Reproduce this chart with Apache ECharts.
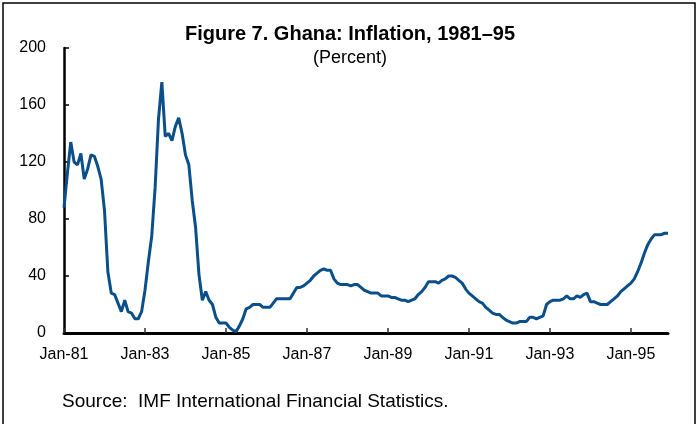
<!DOCTYPE html>
<html>
<head>
<meta charset="utf-8">
<script src="https://cdn.jsdelivr.net/npm/echarts@6/dist/echarts.min.js"></script>
<style>
  html, body { margin: 0; padding: 0; background: #fff; }
  #chart { width: 700px; height: 424px; }
</style>
</head>
<body>
<div id="chart"></div>
<script>
// years shown on the axis, one row of monthly values per year
const years = [81, 82, 83, 84, 85, 86, 87, 88, 89, 90, 91, 92, 93, 94, 95];
const monthNames = ['Jan', 'Feb', 'Mar', 'Apr', 'May', 'Jun', 'Jul', 'Aug', 'Sep', 'Oct', 'Nov', 'Dec'];

// inflation, percent, Jan-81 .. Dec-95
const inflation = [
  88, 112, 134, 120, 118, 126, 108, 115, 125, 124, 117, 108,   // 1981
  86, 43, 28, 27, 21, 15, 23, 15, 14, 10, 10, 15,              // 1982
  30, 50, 68, 102, 150, 176, 138, 140, 135, 145, 151, 140,     // 1983
  125, 118, 93, 74, 41, 23, 29, 23, 20, 11, 7, 7,              // 1984
  7, 4, 2, 1, 5, 10, 17, 18, 20, 20, 20, 18,                   // 1985
  18, 18, 21, 24, 24, 24, 24, 24, 28, 32, 32, 33,              // 1986
  35, 37, 40, 42, 44, 45, 44, 44, 38, 35, 34, 34,              // 1987
  34, 33, 34, 34, 32, 30, 29, 28, 28, 28, 26, 26,              // 1988
  26, 25, 25, 24, 23, 23, 22, 23, 24, 27, 29, 32,              // 1989
  36, 36, 36, 35, 37, 38, 40, 40, 39, 37, 35, 31,              // 1990
  28, 26, 24, 22, 21, 18, 16, 14, 13, 13, 11, 9,               // 1991
  8, 7, 7, 8, 8, 8, 11, 11, 10, 11, 12, 20,                    // 1992
  22, 23, 23, 23, 24, 26, 24, 24, 26, 25, 27, 28,              // 1993
  22, 22, 21, 20, 20, 20, 22, 24, 26, 29, 31, 33,              // 1994
  35, 38, 43, 49, 56, 62, 66, 69, 69, 69, 70, 70               // 1995
];

const yTicks = [0, 40, 80, 120, 160, 200];

const categories = [];
years.forEach(function (y) {
  monthNames.forEach(function (m) {
    categories.push(m + '-' + y);
  });
});

const font = '"Liberation Sans", Arial, sans-serif';
const chart = echarts.init(document.getElementById('chart'));

const option = {
  animation: false,
  backgroundColor: '#ffffff',
  title: {
    text: 'Figure 7. Ghana: Inflation, 1981\u201395',
    subtext: '(Percent)',
    left: 'center',
    top: 19,
    itemGap: 5,
    textStyle: { fontFamily: font, fontSize: 20, fontWeight: 'bold', color: '#000' },
    subtextStyle: { fontFamily: font, fontSize: 18, color: '#000' }
  },
  grid: { left: 64, right: 32, top: 48, bottom: 91 },
  xAxis: {
    type: 'category',
    data: categories,
    boundaryGap: false,
    axisLine: { lineStyle: { color: '#000', width: 3 } },
    axisTick: { inside: true, length: 5, interval: 23, lineStyle: { color: '#333', width: 1.5 } },
    axisLabel: { interval: 23, margin: 14, fontFamily: font, fontSize: 16, color: '#000' },
    splitLine: { show: false }
  },
  yAxis: {
    type: 'value',
    min: yTicks[0],
    max: yTicks[yTicks.length - 1],
    interval: 40,
    axisLine: { show: true, lineStyle: { color: '#000', width: 2.5 } },
    axisTick: { show: true, inside: true, length: 5, lineStyle: { color: '#000', width: 1.5 } },
    axisLabel: { margin: 18, fontFamily: font, fontSize: 16, color: '#000' },
    splitLine: { show: false }
  },
  graphic: [
    {
      type: 'rect',
      shape: { x: 3, y: 3, width: 692, height: 440 },
      style: { fill: 'none', stroke: '#000', lineWidth: 1.5 },
      silent: true
    },
    {
      type: 'text',
      left: 62,
      top: 392,
      style: {
        text: 'Source:  IMF International Financial Statistics.',
        font: '19px "Liberation Sans", Arial, sans-serif',
        fill: '#000'
      }
    }
  ],
  series: [{
    type: 'line',
    data: inflation,
    showSymbol: false,
    lineStyle: { color: '#0a4f8a', width: 3 },
    itemStyle: { color: '#0a4f8a' }
  }]
};

chart.setOption(option);
</script>
</body>
</html>
